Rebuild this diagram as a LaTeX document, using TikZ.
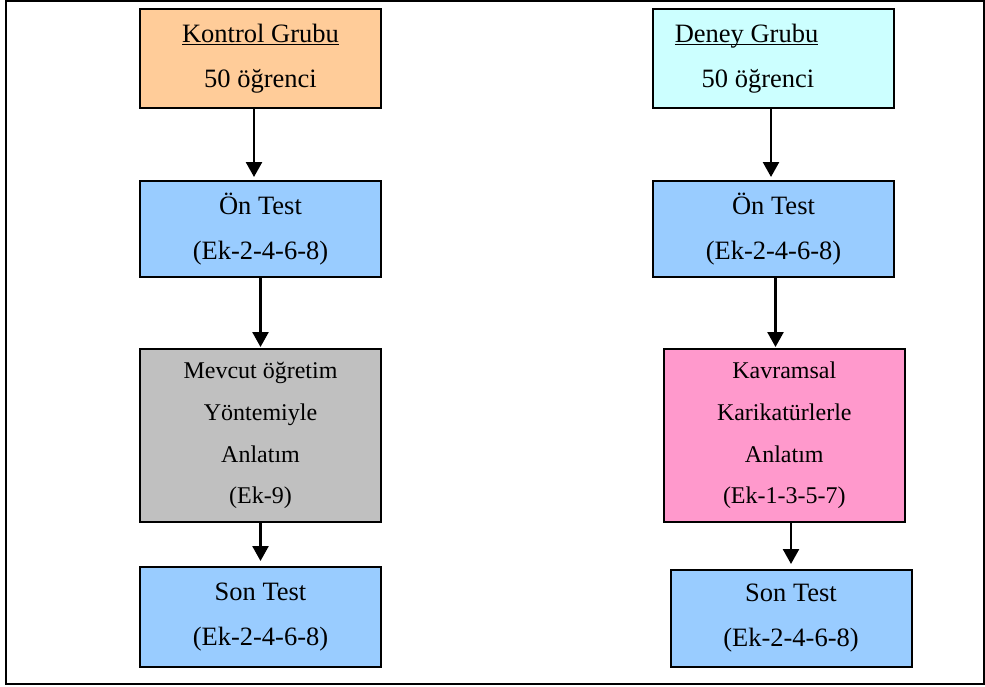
\documentclass[tikz,border=0pt]{standalone}
\usepackage{fontspec}
\setmainfont{Liberation Serif}
\usetikzlibrary{arrows.meta}

\definecolor{turuncu}{HTML}{FFCC99}
\definecolor{acikmavi}{HTML}{CCFFFF}
\definecolor{mavi}{HTML}{99CCFF}
\definecolor{gri}{HTML}{C0C0C0}
\definecolor{pembe}{HTML}{FF99CC}

\newcommand{\baslik}[1]{\underline{\raisebox{0pt}[\height][0pt]{#1}}}

\begin{document}
\begin{tikzpicture}[x=1pt,y=-1pt,
  kutu/.style={draw, line width=2pt, inner sep=0pt, align=center,
    minimum width=241pt, font=\fontsize{26.5}{45}\selectfont},
  ortakutu/.style={kutu, minimum height=173pt, font=\fontsize{24}{41.7}\selectfont},
  ok/.style={line width=2.5pt, -{Triangle[width=16pt,length=15pt]}}]
\useasboundingbox (0,0) rectangle (985,686);
\draw[line width=2pt] (6,1) rectangle (984,684);

% kontrol grubu
\node[kutu, fill=turuncu, minimum height=99pt] (kontrol) at (260.5,58.5)
  {\baslik{Kontrol Grubu}\\50 öğrenci};
\node[kutu, fill=mavi, minimum height=96pt] (onA) at (260.5,229)
  {Ön Test\\(Ek-2-4-6-8)};
\node[ortakutu, fill=gri] (mevcut) at (260.5,435.5)
  {Mevcut öğretim\\Yöntemiyle\\Anlatım\\(Ek-9)};
\node[kutu, fill=mavi, minimum height=100pt] (sonA) at (260.5,617)
  {Son Test\\(Ek-2-4-6-8)};

% deney grubu
\node[kutu, fill=acikmavi, minimum height=99pt] (deney) at (773,58.5)
  {\baslik{Deney Grubu}\hspace*{53pt}\\50 öğrenci\hspace*{30pt}};
\node[kutu, fill=mavi, minimum height=96pt] (onB) at (773.5,229)
  {Ön Test\\(Ek-2-4-6-8)};
\node[ortakutu, fill=pembe] (kavram) at (784.3,435.5)
  {Kavramsal\\Karikatürlerle\\Anlatım\\(Ek-1-3-5-7)};
\node[kutu, fill=mavi, minimum height=97pt] (sonB) at (791,618.5)
  {Son Test\\(Ek-2-4-6-8)};

% oklar
\draw[ok, shorten >=3pt] ([xshift=-6.5pt]kontrol.south) -- ([xshift=-6.5pt]kontrol.south |- onA.north);
\draw[ok, shorten >=1pt] (onA.south) -- (mevcut.north);
\draw[ok, shorten >=5pt] (mevcut.south) -- (sonA.north);
\draw[ok, shorten >=3pt] ([xshift=-2pt]deney.south) -- ([xshift=-2pt]deney.south |- onB.north);
\draw[ok, shorten >=1pt] ([xshift=2pt]onB.south) -- ([xshift=2pt]onB.south |- kavram.north);
\draw[ok, shorten >=5pt] (kavram.south -| sonB.north) -- (sonB.north);

\end{tikzpicture}
\end{document}
